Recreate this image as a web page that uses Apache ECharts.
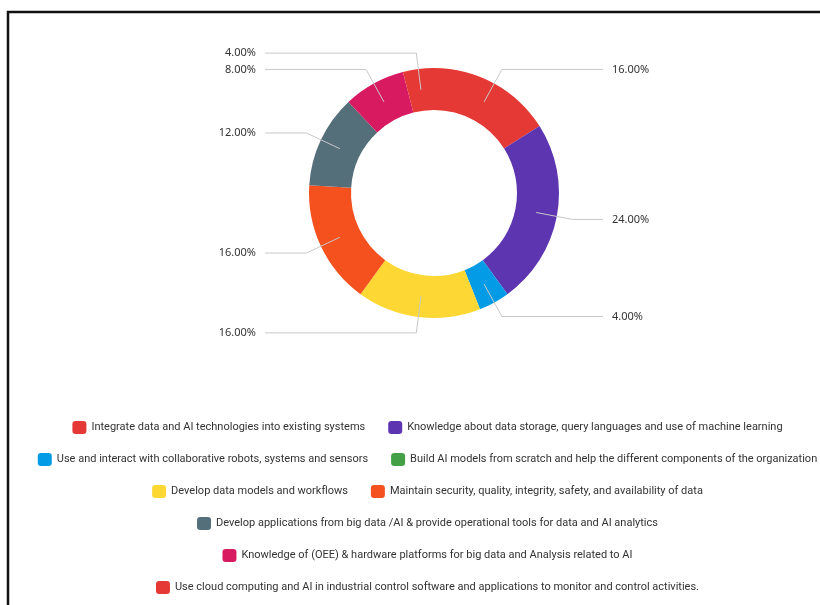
<!DOCTYPE html>
<html>
<head>
<meta charset="utf-8">
<title>AI skills distribution</title>
<script src="https://cdn.jsdelivr.net/npm/echarts@6/dist/echarts.min.js"></script>
<style>
  html, body { margin: 0; padding: 0; background: #ffffff; overflow: hidden; }
  /* the drawing surface runs a little past the window on the right, as the framed panel does */
  #chart { width: 855px; height: 605px; }
</style>
</head>
<body>
<div id="chart"></div>
<script>
// Skill categories, in drawing order (clockwise from 12 o'clock)
const categories = [
  'Integrate data and AI technologies into existing systems',
  'Knowledge about data storage, query languages and use of machine learning',
  'Use and interact with collaborative robots, systems and sensors',
  'Build AI models from scratch and help the different components of the organization',
  'Develop data models and workflows',
  'Maintain security, quality, integrity, safety, and availability of data',
  'Develop applications from big data /AI & provide operational tools for data and AI analytics',
  'Knowledge of (OEE) & hardware platforms for big data and Analysis related to AI',
  'Use cloud computing and AI in industrial control software and applications to monitor and control activities.'
];

// Share of respondents per skill (percent)
const shares = [16, 24, 4, 0, 16, 16, 12, 8, 4];

// Slice colours
const colors = ['#e53935', '#5e35b1', '#039be5', '#43a047', '#fdd835', '#f4511e', '#546e7a', '#d81b60', '#e53935'];

// How many legend entries sit on each centred legend row
const legendRows = [2, 2, 2, 1, 1, 1];

const total = shares.reduce((a, b) => a + b, 0);
const CENTER = [434, 193];
const LABEL_R = 104;      // leader lines start in the middle of the ring
const LINE_LEN = 37;      // first (radial) leader segment
const LINE_REACH = 169;   // horizontal distance from centre where every leader ends

// Ring slices
const ringData = categories.map((name, i) => ({
  name: name,
  value: shares[i],
  itemStyle: { color: colors[i] }
}));

// Invisible inner pie that carries the percentage labels; the horizontal
// leader segment is sized so all leaders on a side end at the same column
let acc = 0;
const labelData = categories.map((name, i) => {
  const theta = 2 * Math.PI * (acc + shares[i] / 2) / total;
  acc += shares[i];
  const hidden = shares[i] === 0;
  const len2 = LINE_REACH - (LABEL_R + LINE_LEN) * Math.abs(Math.sin(theta));
  return {
    name: name,
    value: shares[i],
    label: { show: !hidden },
    labelLine: { show: !hidden, length2: Math.max(4, len2) }
  };
});

// One legend component per row so every row is centred on its own
const legends = [];
let start = 0;
legendRows.forEach((count, r) => {
  legends.push({
    data: categories.slice(start, start + count),
    left: 'center',
    top: 416 + r * 32,
    orient: 'horizontal',
    icon: 'roundRect',
    itemWidth: 14,
    itemHeight: 13,
    itemGap: 23,
    padding: [5, 0],
    selectedMode: false,
    textStyle: {
      fontFamily: 'Roboto, "Noto Sans", sans-serif',
      fontSize: 11,
      color: '#333333'
    }
  });
  start += count;
});

const chart = echarts.init(document.getElementById('chart'), null, { renderer: 'canvas' });

chart.setOption({
  backgroundColor: '#ffffff',
  animation: false,
  graphic: [{
    type: 'rect',
    shape: { x: 8, y: 12, width: 860, height: 620 },
    style: { fill: 'none', stroke: '#111111', lineWidth: 2.5 },
    silent: true,
    z: 100
  }],
  legend: legends,
  series: [
    {
      name: 'ring',
      type: 'pie',
      center: CENTER,
      radius: [83, 125],
      startAngle: 90,
      clockwise: true,
      silent: true,
      label: { show: false },
      labelLine: { show: false },
      data: ringData
    },
    {
      name: 'labels',
      type: 'pie',
      center: CENTER,
      radius: [0, LABEL_R],
      startAngle: 90,
      clockwise: true,
      silent: true,
      z: 3,
      avoidLabelOverlap: false,
      itemStyle: { color: 'rgba(0,0,0,0)' },
      label: {
        show: true,
        position: 'outside',
        alignTo: 'none',
        distanceToLabelLine: 9,
        formatter: p => p.value.toFixed(2) + '%',
        fontFamily: '"Noto Sans", sans-serif',
        fontSize: 11,
        color: '#333333'
      },
      labelLine: {
        show: true,
        length: LINE_LEN,
        length2: 30,
        smooth: false,
        lineStyle: { color: '#c8c8c8', width: 1 }
      },
      data: labelData
    }
  ]
});
</script>
</body>
</html>
